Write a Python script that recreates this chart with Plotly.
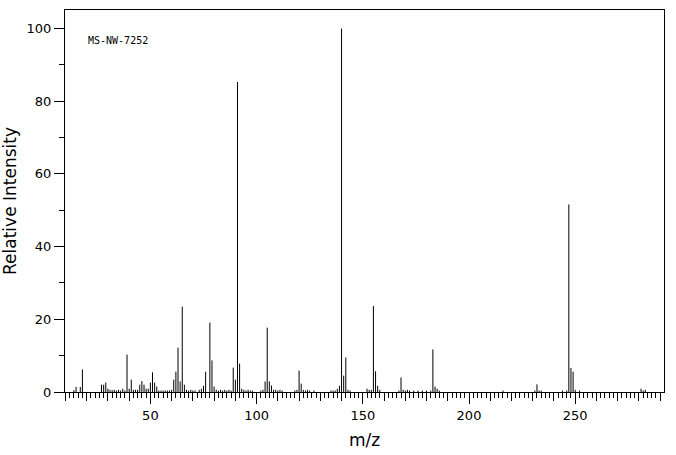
import plotly.graph_objects as go

# m/z values and relative intensities
mz = [14, 15, 17, 18, 27, 28, 29, 30, 31, 32, 33, 34, 35, 36, 37, 38, 39, 40,
      41, 42, 43, 44, 45, 46, 47, 48, 49, 50, 51, 52, 53, 54, 55, 56, 57, 58,
      59, 60, 61, 62, 63, 64, 65, 66, 67, 68, 69, 70, 71, 73, 74, 75, 76, 78,
      79, 80, 81, 82, 83, 84, 85, 86, 87, 88, 89, 90, 91, 92, 93, 94, 95, 96,
      97, 98, 102, 103, 104, 105, 106, 107, 108, 109, 110, 111, 112, 118, 119,
      120, 121, 122, 123, 124, 125, 127, 135, 136, 137, 138, 139, 140, 141,
      142, 143, 144, 152, 153, 154, 155, 156, 157, 158, 167, 168, 169, 170,
      171, 172, 174, 176, 178, 180, 182, 183, 184, 185, 186, 216, 231, 232,
      233, 234, 244, 246, 247, 248, 249, 250, 252, 281, 282, 283]
intensity = [0.5, 1.4, 1.4, 6.2, 2.0, 2.0, 2.6, 0.9, 0.6, 0.5, 0.6, 0.4, 0.6,
             0.4, 0.9, 0.4, 10.3, 0.9, 3.4, 0.6, 0.6, 0.6, 2.0, 3.0, 2.0, 0.9,
             0.9, 2.6, 5.4, 2.6, 1.5, 0.4, 0.4, 0.4, 0.4, 0.4, 0.4, 0.6, 3.4,
             5.6, 12.2, 2.9, 23.5, 2.0, 0.6, 0.4, 0.6, 0.4, 0.4, 0.6, 0.9, 1.7,
             5.6, 19.1, 8.7, 1.5, 0.6, 0.4, 0.6, 0.4, 0.6, 0.4, 0.6, 0.4, 6.7,
             3.4, 85.3, 7.8, 0.9, 0.6, 0.4, 0.6, 0.4, 0.4, 0.4, 0.6, 2.9, 17.7,
             2.9, 1.8, 0.6, 0.6, 0.4, 0.6, 0.4, 0.4, 0.6, 5.9, 2.3, 0.6, 0.4,
             0.6, 0.4, 0.4, 0.4, 0.4, 0.4, 0.9, 1.7, 100.0, 4.5, 9.5, 0.6, 0.4,
             0.9, 0.6, 0.6, 23.7, 5.7, 1.7, 0.6, 0.4, 4.0, 0.6, 0.4, 0.6, 0.4,
             0.4, 0.4, 0.4, 0.4, 0.4, 11.7, 1.5, 0.9, 0.4, 0.4, 0.4, 2.1, 0.4,
             0.4, 0.4, 0.4, 51.6, 6.6, 5.6, 0.6, 0.4, 0.9, 0.4, 0.6]

x_range = [9.8, 291.8]
y_range = [0, 105.1]
sample_id = "MS-NW-7252"

# build stick lines from the data
xs, ys = [], []
for m, h in zip(mz, intensity):
    xs += [m, m, None]
    ys += [0, h, None]

fig = go.Figure()
fig.add_trace(go.Scatter(x=xs, y=ys, mode="lines",
                         line=dict(color="black", width=1),
                         hoverinfo="skip", showlegend=False))
# invisible trace to activate the secondary x axis (ticks every 10)
fig.add_trace(go.Scatter(x=[x_range[0]], y=[0], xaxis="x2", mode="markers",
                         marker=dict(opacity=0), showlegend=False,
                         hoverinfo="skip"))

font_family = "DejaVu Sans"

fig.update_layout(
    width=676, height=455,
    margin=dict(l=63, r=12, t=9, b=61),
    paper_bgcolor="white", plot_bgcolor="white",
    font=dict(family=font_family, color="black", size=13),
    xaxis=dict(
        range=x_range, showgrid=False, zeroline=False,
        showline=True, mirror=True, linecolor="black", linewidth=1,
        tick0=0, dtick=50, ticks="outside", ticklen=11, tickwidth=1,
        tickcolor="black",
        minor=dict(dtick=2, tick0=0, ticks="outside", ticklen=5,
                   tickcolor="black", tickwidth=1, showgrid=False),
        tickfont=dict(size=13, family=font_family, color="black"),
        title=dict(text="m/z", font=dict(size=17, family=font_family,
                                         color="black"),
                   standoff=12),
    ),
    xaxis2=dict(
        range=x_range, overlaying="x", anchor="y", side="bottom",
        showgrid=False, zeroline=False, showline=False,
        tick0=0, dtick=10, ticks="outside", ticklen=8, tickwidth=1,
        tickcolor="black", showticklabels=False,
    ),
    yaxis=dict(
        range=y_range, showgrid=False, zeroline=False,
        showline=True, mirror=True, linecolor="black", linewidth=1,
        tick0=0, dtick=20, ticks="outside", ticklen=10, tickwidth=1,
        tickcolor="black",
        minor=dict(dtick=10, tick0=0, ticks="outside", ticklen=5,
                   tickcolor="black", tickwidth=1, showgrid=False),
        tickfont=dict(size=13, family=font_family, color="black"),
        title=dict(text="Relative Intensity",
                   font=dict(size=17, family=font_family, color="black"),
                   standoff=6),
    ),
    annotations=[dict(
        text=sample_id, xref="paper", yref="paper",
        x=0.035, y=0.921, xanchor="left", yanchor="middle",
        showarrow=False,
        font=dict(size=10, family="DejaVu Sans Mono", color="black"),
    )],
)

fig.write_html("out.html")
